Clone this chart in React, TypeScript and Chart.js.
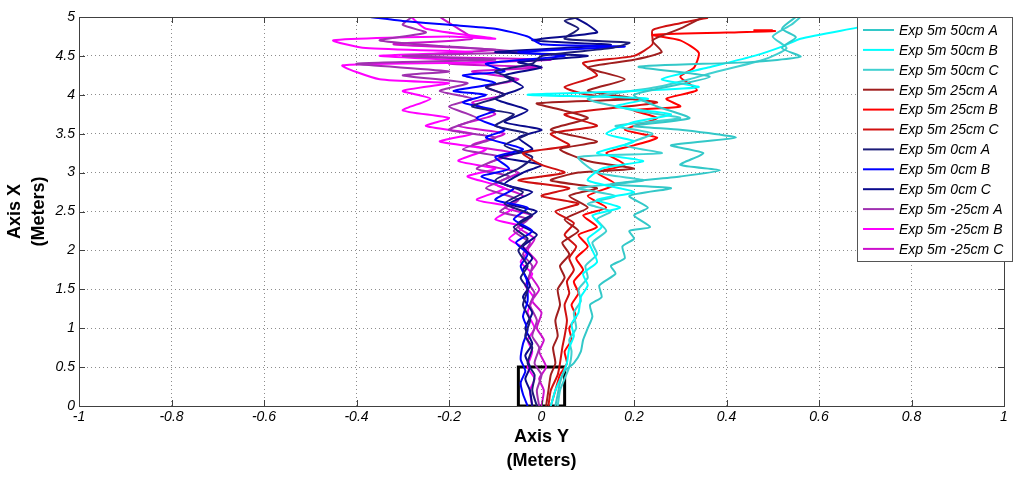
import React, { useRef, useEffect } from "react";
import Chart from "chart.js/auto";

type Pt = [number, number];

// runs as [Axis Y, Axis X] in meters
const exp50A: Pt[] = [
  [0.03, 0], [0.035, 0.15], [0.04, 0.3], [0.05, 0.45], [0.07, 0.55], [0.085, 0.7], [0.09, 0.85],
  [0.1, 1.0], [0.11, 1.15], [0.105, 1.3], [0.13, 1.4], [0.125, 1.55], [0.16, 1.7], [0.15, 1.8],
  [0.18, 1.9], [0.175, 2.05], [0.2, 2.15], [0.19, 2.25], [0.235, 2.3], [0.2, 2.45], [0.23, 2.55],
  [0.19, 2.7], [0.28, 2.8], [0.15, 2.85], [0.3, 2.95], [0.386, 3.03], [0.3, 3.1], [0.35, 3.25],
  [0.28, 3.35], [0.42, 3.45], [0.3, 3.55], [0.2, 3.6], [0.32, 3.7], [0.25, 3.85], [0.2, 4.0],
  [0.364, 4.23], [0.21, 4.36], [0.45, 4.42], [0.56, 4.49], [0.52, 4.6], [0.55, 4.74], [0.52, 4.85],
  [0.55, 5.0],
];
const exp50B: Pt[] = [
  [0.02, 0], [0.03, 0.2], [0.045, 0.4], [0.055, 0.55], [0.06, 0.75], [0.07, 0.9], [0.065, 1.05],
  [0.08, 1.2], [0.085, 1.4], [0.1, 1.55], [0.09, 1.7], [0.12, 1.85], [0.11, 2.0], [0.1, 2.15],
  [0.13, 2.3], [0.11, 2.45], [0.17, 2.55], [0.12, 2.65], [0.2, 2.75], [0.1, 2.9], [0.13, 3.05],
  [0.22, 3.15], [0.12, 3.25], [0.2, 3.4], [0.14, 3.5], [0.2, 3.65], [0.28, 3.75], [0.16, 3.85],
  [0.23, 3.95], [-0.03, 4.0], [0.2, 4.05], [0.34, 4.1], [0.26, 4.2], [0.36, 4.35], [0.46, 4.5],
  [0.52, 4.62], [0.56, 4.72], [0.68, 4.86], [0.78, 4.98],
];
const exp50C: Pt[] = [
  [0.035, 0], [0.04, 0.2], [0.05, 0.35], [0.06, 0.5], [0.065, 0.7], [0.06, 0.85], [0.075, 1.0],
  [0.07, 1.2], [0.085, 1.35], [0.08, 1.5], [0.1, 1.65], [0.095, 1.8], [0.12, 1.95], [0.11, 2.1],
  [0.14, 2.25], [0.12, 2.4], [0.15, 2.5], [0.1, 2.6], [0.16, 2.7], [0.08, 2.8], [0.22, 2.9],
  [0.12, 3.0], [0.08, 3.2], [0.26, 3.25], [0.18, 3.35], [0.24, 3.5], [0.16, 3.6], [0.3, 3.7],
  [0.2, 3.8], [0.1, 3.95], [0.25, 4.1], [0.32, 4.2], [0.38, 4.3], [0.48, 4.45], [0.53, 4.6],
  [0.5, 4.75], [0.54, 4.9], [0.56, 5.0],
];
const exp25A: Pt[] = [
  [0.01, 0], [0.015, 0.2], [0.02, 0.4], [0.03, 0.55], [0.025, 0.75], [0.035, 0.9], [0.03, 1.1],
  [0.04, 1.3], [0.035, 1.5], [0.05, 1.65], [0.04, 1.8], [0.06, 1.95], [0.045, 2.1], [0.08, 2.25],
  [0.05, 2.4], [0.1, 2.55], [0.06, 2.7], [0.12, 2.8], [0.02, 2.9], [0.08, 3.0], [0.2, 3.05],
  [0.1, 3.15], [0.04, 3.3], [0.12, 3.4], [0.02, 3.55], [0.1, 3.7], [0.047, 3.8], [-0.01, 3.89],
  [0.2, 3.95], [0.1, 4.05], [0.18, 4.2], [0.1, 4.35], [0.2, 4.45], [0.26, 4.55], [0.24, 4.7],
  [0.3, 4.85], [0.35, 5.0],
];
const exp25B: Pt[] = [
  [0.02, 0], [0.03, 0.2], [0.04, 0.4], [0.055, 0.55], [0.05, 0.7], [0.065, 0.85], [0.06, 1.0],
  [0.075, 1.15], [0.065, 1.3], [0.08, 1.45], [0.07, 1.6], [0.09, 1.75], [0.075, 1.9], [0.1, 2.05],
  [0.08, 2.2], [0.12, 2.3], [0.09, 2.45], [0.14, 2.55], [0.1, 2.7], [0.16, 2.85], [0.12, 3.0],
  [0.18, 3.1], [0.14, 3.25], [0.2, 3.35], [0.25, 3.45], [0.18, 3.55], [0.25, 3.7], [0.2, 3.8],
  [0.3, 3.85], [0.27, 3.95], [0.336, 4.06], [0.3, 4.23], [0.33, 4.35], [0.34, 4.54], [0.3, 4.7],
  [0.24, 4.77], [0.4, 4.8], [0.505, 4.82], [0.46, 4.83], [0.5, 4.83],
];
const exp25C: Pt[] = [
  [0.015, 0], [0.02, 0.2], [0.035, 0.4], [0.04, 0.55], [0.045, 0.75], [0.05, 0.9], [0.055, 1.1],
  [0.05, 1.3], [0.06, 1.45], [0.055, 1.6], [0.07, 1.75], [0.06, 1.9], [0.075, 2.05], [0.05, 2.2],
  [0.07, 2.35], [0.03, 2.5], [0.08, 2.6], [0.0, 2.7], [0.06, 2.8], [-0.05, 2.9], [0.05, 3.0],
  [0.0, 3.1], [-0.04, 3.25], [0.06, 3.35], [0.02, 3.5], [0.12, 3.6], [0.05, 3.75], [0.25, 3.9],
  [0.1, 4.0], [0.05, 4.1], [0.12, 4.25], [0.09, 4.41], [0.2, 4.5], [0.24, 4.65], [0.24, 4.83],
  [0.3, 4.92], [0.36, 4.99],
];
const exp0A: Pt[] = [
  [-0.01, 0], [-0.02, 0.2], [-0.015, 0.4], [-0.03, 0.55], [-0.02, 0.75], [-0.035, 0.9],
  [-0.025, 1.1], [-0.04, 1.3], [-0.03, 1.5], [-0.045, 1.65], [-0.03, 1.8], [-0.05, 2.0],
  [-0.03, 2.15], [-0.06, 2.3], [-0.02, 2.45], [-0.08, 2.6], [-0.04, 2.75], [-0.1, 2.9],
  [-0.05, 3.05], [-0.02, 3.2], [-0.08, 3.35], [-0.03, 3.5], [-0.1, 3.6], [-0.06, 3.75],
  [-0.15, 3.85], [-0.08, 4.0], [-0.12, 4.1], [-0.06, 4.2], [-0.1, 4.3], [-0.02, 4.4], [0.0, 4.5],
  [0.15, 4.6], [0.19, 4.67], [0.05, 4.72], [0.08, 4.85], [0.05, 4.95], [0.083, 5.0],
];
const exp0B: Pt[] = [
  [-0.03, 0], [-0.04, 0.15], [-0.045, 0.3], [-0.035, 0.45], [-0.045, 0.6], [-0.04, 0.8],
  [-0.03, 0.98], [-0.04, 1.15], [-0.03, 1.35], [-0.032, 1.62], [-0.045, 1.8], [-0.03, 1.95],
  [-0.055, 2.1], [-0.02, 2.25], [-0.06, 2.4], [-0.03, 2.55], [-0.1, 2.65], [-0.06, 2.8],
  [-0.13, 2.95], [-0.07, 3.05], [-0.1, 3.2], [-0.04, 3.3], [-0.12, 3.45], [-0.08, 3.55],
  [-0.14, 3.7], [-0.1, 3.8], [-0.17, 3.9], [-0.12, 4.0], [-0.19, 4.05], [-0.1, 4.15],
  [-0.17, 4.25], [-0.08, 4.3], [-0.12, 4.4], [0.05, 4.5], [-0.05, 4.55], [0.18, 4.62],
  [0.0, 4.65], [-0.03, 4.75], [-0.1, 4.85], [-0.2, 4.9], [-0.3, 4.95], [-0.37, 5.0],
];
const exp0C: Pt[] = [
  [-0.02, 0], [-0.025, 0.2], [-0.035, 0.35], [-0.025, 0.5], [-0.035, 0.65], [-0.02, 0.8],
  [-0.035, 1.0], [-0.02, 1.2], [-0.04, 1.4], [-0.025, 1.55], [-0.04, 1.75], [-0.02, 1.9],
  [-0.04, 2.05], [-0.01, 2.2], [-0.05, 2.35], [-0.01, 2.5], [-0.07, 2.6], [-0.02, 2.75],
  [-0.08, 2.85], [-0.04, 3.0], [0.0, 3.1], [-0.09, 3.2], [-0.02, 3.3], [-0.05, 3.45], [0.0, 3.55],
  [-0.08, 3.65], [-0.03, 3.8], [-0.1, 3.95], [-0.04, 4.1], [-0.08, 4.25], [0.0, 4.35],
  [-0.05, 4.42], [0.1, 4.5], [-0.1, 4.55], [0.15, 4.64], [-0.02, 4.7], [0.12, 4.8], [0.1, 4.9],
  [0.07, 5.0],
];
const expM25A: Pt[] = [
  [-0.005, 0], [-0.01, 0.2], [0.0, 0.4], [-0.015, 0.55], [-0.005, 0.75], [-0.02, 0.9],
  [-0.01, 1.1], [-0.025, 1.3], [-0.015, 1.45], [-0.03, 1.6], [-0.02, 1.8], [-0.04, 1.95],
  [-0.025, 2.1], [-0.06, 2.25], [-0.03, 2.4], [-0.09, 2.5], [-0.05, 2.65], [-0.12, 2.8],
  [-0.07, 2.95], [-0.14, 3.05], [-0.09, 3.2], [-0.17, 3.3], [-0.1, 3.45], [-0.2, 3.55],
  [-0.14, 3.7], [-0.2, 3.85], [-0.15, 3.95], [-0.22, 4.05], [-0.16, 4.15], [-0.3, 4.25],
  [-0.2, 4.3], [-0.4, 4.4], [-0.1, 4.45], [-0.3, 4.5], [-0.05, 4.55], [-0.2, 4.62], [-0.35, 4.7],
  [-0.25, 4.8], [-0.3, 4.9], [-0.28, 5.0],
];
const expM25B: Pt[] = [
  [-0.02, 0], [-0.025, 0.2], [-0.015, 0.35], [-0.03, 0.5], [-0.02, 0.7], [-0.03, 0.85],
  [-0.015, 1.0], [-0.03, 1.2], [-0.018, 1.4], [-0.035, 1.55], [-0.02, 1.7], [-0.045, 1.85],
  [-0.03, 2.0], [-0.07, 2.15], [-0.04, 2.3], [-0.1, 2.4], [-0.06, 2.55], [-0.14, 2.65],
  [-0.08, 2.8], [-0.16, 2.95], [-0.1, 3.05], [-0.18, 3.15], [-0.12, 3.3], [-0.22, 3.4],
  [-0.15, 3.5], [-0.25, 3.6], [-0.2, 3.7], [-0.3, 3.8], [-0.24, 3.95], [-0.3, 4.05], [-0.2, 4.15],
  [-0.35, 4.2], [-0.43, 4.38], [-0.1, 4.42], [-0.35, 4.5], [-0.15, 4.55], [-0.38, 4.6],
  [-0.45, 4.7], [-0.2, 4.75], [-0.1, 4.72], [-0.25, 4.85], [-0.28, 4.99],
];
const expM25C: Pt[] = [
  [0.0, 0], [0.005, 0.2], [-0.005, 0.35], [0.01, 0.5], [-0.005, 0.7], [0.005, 0.85],
  [-0.01, 1.0], [0.0, 1.2], [-0.02, 1.35], [-0.005, 1.5], [-0.025, 1.7], [-0.01, 1.85],
  [-0.03, 2.0], [-0.015, 2.15], [-0.05, 2.3], [-0.02, 2.45], [-0.08, 2.55], [-0.04, 2.7],
  [-0.1, 2.85], [-0.05, 3.0], [-0.12, 3.1], [-0.06, 3.25], [-0.15, 3.35], [-0.08, 3.5],
  [-0.18, 3.6], [-0.1, 3.75], [-0.15, 3.9], [-0.08, 4.0], [-0.12, 4.1], [-0.05, 4.2],
  [-0.15, 4.3], [0.0, 4.35], [-0.2, 4.4], [0.02, 4.45], [-0.28, 4.5], [-0.1, 4.58],
  [-0.32, 4.65], [-0.15, 4.72], [-0.18, 4.85], [-0.22, 5.0],
];

// start zone marked on the plot
const startBox: Pt[] = [[-0.05, 0], [-0.05, 0.5], [0.05, 0.5], [0.05, 0], [-0.05, 0]];

const runLabels = [
  "Exp 5m 50cm A", "Exp 5m 50cm B", "Exp 5m 50cm C",
  "Exp 5m 25cm A", "Exp 5m 25cm B", "Exp 5m 25cm C",
  "Exp 5m 0cm A", "Exp 5m 0cm B", "Exp 5m 0cm C",
  "Exp 5m -25cm A", "Exp 5m -25cm B", "Exp 5m -25cm C",
];
const runs = [exp50A, exp50B, exp50C, exp25A, exp25B, exp25C, exp0A, exp0B, exp0C, expM25A, expM25B, expM25C];
const runColors = [
  "#33c8c8", "#00ffff", "#40d0d0",
  "#a01e1e", "#ff0000", "#d01010",
  "#1c1c78", "#0000ff", "#0a0a8c",
  "#a030b0", "#ff00ff", "#cc10cc",
];

const FONT = "'Liberation Sans', Arial, sans-serif";

const framePlugin = {
  id: "matlabFrame",
  afterDatasetsDraw(chart: any) {
    const { ctx, chartArea: a, scales } = chart;
    ctx.save();
    ctx.strokeStyle = "#404040";
    ctx.lineWidth = 1;
    ctx.beginPath();
    scales.x.ticks.forEach((t: any) => {
      const px = Math.round(scales.x.getPixelForValue(t.value)) + 0.5;
      ctx.moveTo(px, a.bottom);
      ctx.lineTo(px, a.bottom - 6);
      ctx.moveTo(px, a.top);
      ctx.lineTo(px, a.top + 6);
    });
    scales.y.ticks.forEach((t: any) => {
      const py = Math.round(scales.y.getPixelForValue(t.value)) + 0.5;
      ctx.moveTo(a.left, py);
      ctx.lineTo(a.left + 6, py);
      ctx.moveTo(a.right, py);
      ctx.lineTo(a.right - 6, py);
    });
    ctx.stroke();
    ctx.strokeRect(Math.round(a.left) + 0.5, Math.round(a.top) + 0.5,
      Math.round(a.right - a.left), Math.round(a.bottom - a.top));
    ctx.restore();
  },
  afterDraw(chart: any) {
    const { ctx } = chart;
    const left = 857, top = 17, w = 155, h = 244;
    ctx.save();
    ctx.fillStyle = "#ffffff";
    ctx.fillRect(left, top, w, h);
    ctx.strokeStyle = "#555555";
    ctx.lineWidth = 1;
    ctx.strokeRect(left + 0.5, top + 0.5, w, h);
    ctx.font = `italic 14px ${FONT}`;
    ctx.textBaseline = "middle";
    runLabels.forEach((label, i) => {
      const y = top + 13 + i * 19.9;
      ctx.strokeStyle = runColors[i];
      ctx.lineWidth = 2;
      ctx.beginPath();
      ctx.moveTo(863, y);
      ctx.lineTo(894, y);
      ctx.stroke();
      ctx.fillStyle = "#000000";
      ctx.fillText(label, 899, y + 1);
    });
    ctx.restore();
  },
};

const fmt = (v: any) => String(Math.round(Number(v) * 10) / 10);

export default function App() {
  const chartRef = useRef<HTMLCanvasElement>(null);

  useEffect(() => {
    if (!chartRef.current) return;
    const datasets: any[] = runs.map((run, i) => ({
      label: runLabels[i],
      data: run.map(([x, y]) => ({ x, y })),
      borderColor: runColors[i],
      borderWidth: 2,
      showLine: true,
      pointRadius: 0,
      fill: false,
      tension: 0.2,
    }));
    datasets.push({
      label: "start",
      data: startBox.map(([x, y]) => ({ x, y })),
      borderColor: "#000000",
      borderWidth: 3,
      showLine: true,
      pointRadius: 0,
      fill: false,
      tension: 0,
    });

    const chart = new Chart(chartRef.current, {
      type: "scatter",
      data: { datasets },
      options: {
        animation: false,
        responsive: false,
        devicePixelRatio: 1,
        layout: { padding: { left: 0, right: 20, top: 17, bottom: 0 } },
        plugins: { legend: { display: false }, tooltip: { enabled: false } },
        scales: {
          x: {
            type: "linear",
            min: -1,
            max: 1,
            afterFit: (s: any) => { s.height = 73; },
            ticks: {
              stepSize: 0.2,
              callback: fmt,
              color: "#000",
              padding: 3,
              maxRotation: 0,
              font: { family: FONT, size: 14, style: "italic" },
            },
            grid: { color: "#8c8c8c", drawTicks: false },
            border: { display: false, dash: [1, 3] },
            title: {
              display: true,
              text: ["Axis Y", "(Meters)"],
              color: "#000",
              padding: { top: 0, bottom: 6 },
              font: { family: FONT, size: 18, weight: "bold", lineHeight: 1.33 },
            },
          },
          y: {
            type: "linear",
            min: 0,
            max: 5,
            afterFit: (s: any) => { s.width = 79; },
            ticks: {
              stepSize: 0.5,
              callback: fmt,
              color: "#000",
              padding: 4,
              font: { family: FONT, size: 14, style: "italic" },
            },
            grid: { color: "#8c8c8c", drawTicks: false },
            border: { display: false, dash: [1, 3] },
            title: {
              display: true,
              text: ["Axis X", "(Meters)"],
              color: "#000",
              padding: { top: 3, bottom: 0 },
              font: { family: FONT, size: 18, weight: "bold", lineHeight: 1.33 },
            },
          },
        },
      },
      plugins: [framePlugin],
    } as any);

    return () => {
      chart.destroy();
    };
  }, []);

  return (
    <div style={{ position: "fixed", left: 0, top: 0, width: 1024, height: 479, background: "#fff" }}>
      <canvas ref={chartRef} width={1024} height={479} style={{ width: 1024, height: 479 }} />
    </div>
  );
}
